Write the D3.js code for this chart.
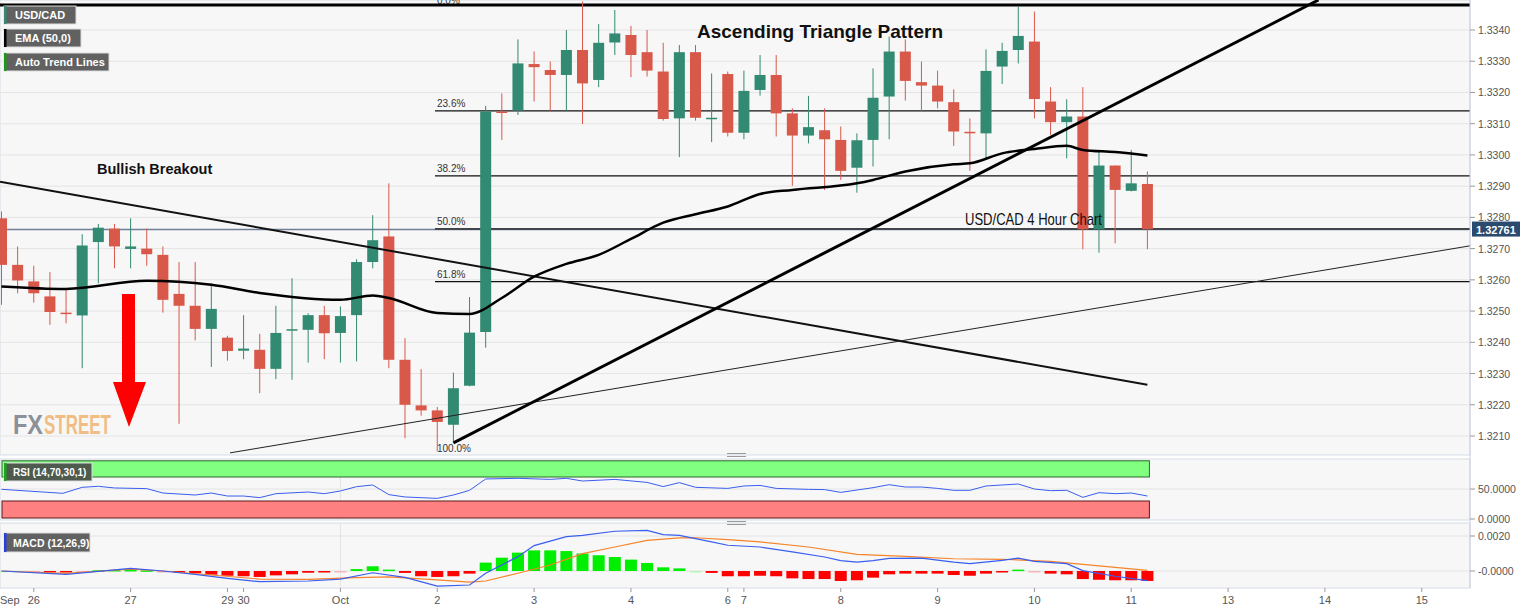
<!DOCTYPE html>
<html><head><meta charset="utf-8">
<script src="https://cdn.jsdelivr.net/npm/d3@7/dist/d3.min.js"></script>
<style>body{margin:0;background:#fff;font-family:"Liberation Sans",Arial,sans-serif}</style>
</head><body><svg id="c" width="1536" height="611"></svg>
<script>
// OHLC per 4-hour candle (index 0..71)
const opens  = [1.32797,1.32648,1.32595,1.32547,1.32495,1.32486,1.32721,1.32764,1.32699,1.32700,1.32680,1.32555,1.32517,1.32443,1.32415,1.32373,1.32376,1.32315,1.32438,1.32440,1.32487,1.32430,1.32487,1.32657,1.32739,1.32344,1.32198,1.32182,1.32136,1.32261,1.32433,1.33139,1.33142,1.33291,1.33272,1.33256,1.33336,1.33240,1.33360,1.33384,1.33329,1.33267,1.33117,1.33329,1.33116,1.33259,1.33071,1.33208,1.33256,1.33133,1.33062,1.33079,1.33048,1.32959,1.33048,1.33187,1.33331,1.33233,1.33222,1.33169,1.33074,1.33069,1.33283,1.33336,1.33363,1.33171,1.33105,1.33123,1.32762,1.32966,1.32885,1.32907];
const highs  = [1.32819,1.32707,1.32645,1.32625,1.32571,1.32746,1.32779,1.32779,1.32797,1.32764,1.32707,1.32657,1.32657,1.32589,1.32421,1.32487,1.32427,1.32517,1.32605,1.32493,1.32517,1.32515,1.32666,1.32807,1.32909,1.32413,1.32314,1.32193,1.32303,1.32545,1.33157,1.33197,1.33370,1.33331,1.33299,1.33400,1.33491,1.33419,1.33464,1.33413,1.33400,1.33359,1.33352,1.33352,1.33261,1.33267,1.33270,1.33320,1.33320,1.33149,1.33189,1.33149,1.33091,1.33069,1.33277,1.33379,1.33370,1.33299,1.33270,1.33210,1.33117,1.33338,1.33359,1.33475,1.33459,1.33217,1.33178,1.33217,1.33011,1.32966,1.33016,1.32947];
const lows   = [1.32520,1.32557,1.32527,1.32456,1.32461,1.32317,1.32589,1.32637,1.32637,1.32645,1.32495,1.32139,1.32406,1.32321,1.32341,1.32346,1.32237,1.32282,1.32280,1.32335,1.32346,1.32335,1.32339,1.32637,1.32317,1.32093,1.32165,1.32051,1.32083,1.32259,1.32383,1.33048,1.33128,1.33171,1.33142,1.33142,1.33099,1.33217,1.33320,1.33249,1.33251,1.33110,1.32993,1.33110,1.33041,1.33059,1.33050,1.33190,1.33059,1.32901,1.33037,1.32888,1.32920,1.32879,1.32963,1.33050,1.33174,1.33141,1.33149,1.33029,1.32949,1.32989,1.33227,1.33293,1.33117,1.33064,1.32989,1.32698,1.32687,1.32717,1.32883,1.32698];
const closes = [1.32648,1.32598,1.32557,1.32497,1.32491,1.32710,1.32767,1.32707,1.32707,1.32682,1.32536,1.32517,1.32443,1.32507,1.32372,1.32380,1.32315,1.32430,1.32442,1.32487,1.32429,1.32484,1.32657,1.32727,1.32344,1.32200,1.32182,1.32145,1.32253,1.32431,1.33139,1.33137,1.33293,1.33281,1.33256,1.33336,1.33229,1.33359,1.33389,1.33320,1.33270,1.33115,1.33329,1.33119,1.33119,1.33071,1.33205,1.33256,1.33133,1.33062,1.33089,1.33050,1.32949,1.33047,1.33183,1.33331,1.33237,1.33222,1.33171,1.33075,1.33070,1.33269,1.33333,1.33381,1.33179,1.33105,1.33123,1.32762,1.32966,1.32888,1.32909,1.32762];
// EMA(50) read at selected candles [index, price]
const emaPts = [[0,1.32579],[4,1.32571],[9,1.32597],[13,1.32584],[16,1.32558],[21,1.32536],[23,1.32550],[24,1.32542],[27,1.32494],[29,1.32491],[31,1.32542],[33,1.32610],[35,1.32651],[37,1.32680],[39,1.32731],[41,1.32783],[43,1.32810],[45,1.32835],[47,1.32875],[49,1.32888],[53,1.32909],[54,1.32920],[56,1.32947],[59,1.32970],[60,1.32973],[62,1.33005],[64,1.33019],[66,1.33029],[67,1.33016],[69,1.33009],[71,1.32998]];
// trend lines [index, price]
const descLine = [[-0.09,1.32914],[71,1.32264]];
const thinLine = [[14.16,1.32046],[91,1.32709]];
const ascLine  = [[28,1.32078],[81.6,1.33496]];
const topLevel = 1.3348;
const fibLevels = [["0.0%",1.3348],["23.6%",1.33141],["38.2%",1.32933],["50.0%",1.32763],["61.8%",1.32594],["100.0%",1.32066]];
const lastPrice = 1.32761;
const priceTicks = [1.3340,1.3330,1.3320,1.3310,1.3300,1.3290,1.3280,1.3270,1.3260,1.3250,1.3240,1.3230,1.3220,1.3210];
// RSI [index, value]
const rsiPts = [[0,49.5],[3.8,42.8],[5,52.8],[6,54.5],[7,51.7],[9,50.6],[10,43.3],[12,40],[13,43.3],[14,38.3],[15,38.3],[16,35.6],[17,42.2],[19,45],[20,42.2],[21,46.7],[22,53.9],[23,56.7],[24,40.6],[25,36.7],[27,34.4],[28,40],[29,47.8],[30,66.7],[32,67.8],[34,66],[35,67.8],[36,63.3],[38,66],[40,61],[41,54],[42,60.6],[43,52.8],[45,51],[46,55],[47,56],[48,51],[50,49.4],[51,49],[52,44.4],[54,52.2],[55,57.2],[56,53.3],[57,53.3],[58,51],[59,47.8],[60,47.8],[61,55],[62,56.7],[63,58.3],[64,50],[65,47.2],[66,47.8],[67,36.1],[68,43.9],[69,42.2],[70,43.3],[71,38.3]];
// MACD histogram (x1e-4) per candle
const hist = [0.1,0,-0.2,-0.6,-0.6,-0.2,0.4,0.6,0.6,0.4,-0.3,-0.8,-1.3,-2.1,-2.7,-3.0,-3.4,-2.5,-1.9,-1.0,-0.6,-0.2,1.1,2.7,0.8,-1.1,-3.0,-3.4,-3.0,-1.5,4.8,7.6,10.5,11.8,11.8,11.4,10.0,9.0,8.0,6.5,4.6,2.1,1.5,0,-1.1,-3.0,-3.0,-2.7,-3.0,-4.2,-4.6,-4.6,-5.7,-5.3,-3.8,-1.9,-1.5,-1.5,-1.5,-2.3,-2.7,-1.5,-0.4,0.8,-0.2,-1.5,-1.9,-4.6,-5.0,-5.3,-5.3,-5.7];
const macdPts = [[0,0],[4,-1.9],[8,1.5],[10,0],[12,-1.9],[14,-4.2],[16,-6.1],[19,-5.7],[21,-4.6],[23,-1],[25,-3.6],[27,-8.6],[29,-8],[30,-1.3],[32,8.2],[33,14.5],[35,19.6],[36,20.4],[38,22.7],[40,23.2],[41,20.8],[42,20.4],[44,16.6],[45,14.7],[47,13.7],[49,10.9],[51,8],[52,5.9],[53,5.1],[54,5.9],[55,7.2],[57,7.4],[59,5.1],[60,4.2],[62,6.1],[63,7.4],[64,5.5],[66,4.2],[67,0.2],[69,-3],[71,-5.5]];
const signalPts = [[0,0],[4,-1.3],[8,1.1],[10,0],[13,-2.3],[16,-4.6],[19,-4.8],[22,-3.8],[24,-3.4],[27,-5.1],[29,-6.3],[30,-5.7],[32,-1.3],[34,3.4],[36,9.9],[38,13.7],[40,17.5],[42,18.9],[43,19],[45,17.9],[47,16.6],[50,13.7],[53,9.5],[56,8.4],[59,7],[62,6.7],[65,5.5],[67,3.8],[71,0.4]];
const dateTicks = [[2,"26"],[8,"27"],[14,"29"],[15,"30"],[21,"Oct"],[27,"2"],[33,"3"],[39,"4"],[45,"6"],[46,"7"],[52,"8"],[58,"9"],[64,"10"],[70,"11"],[76,"13"],[82,"14"],[88,"15"]];

const svg = d3.select("#c");
const W = 1470;
const x = d3.scaleLinear().domain([0,71]).range([1.5,1147.4]);
const y = d3.scaleLinear().domain([1.3210,1.3340]).range([436,30]);
const yr = d3.scaleLinear().domain([0,100]).range([519,459]);
const ym = d3.scaleLinear().domain([0,20]).range([571,536]); // units of 1e-4
const GREEN="#338a72", RED="#d8584a";

// panels
[[0,455],[459,520],[523,588]].forEach(([a,b])=>svg.append("rect").attr("x",0).attr("y",a).attr("width",W).attr("height",b-a).attr("fill","#f7f7f7").attr("stroke","#d5dbe6"));
const defs = svg.append("defs");
defs.append("clipPath").attr("id","mc").append("rect").attr("x",0).attr("y",0).attr("width",W).attr("height",455);
const main = svg.append("g").attr("clip-path","url(#mc)");
main.selectAll(".g").data(priceTicks).join("line").attr("x1",0).attr("x2",W).attr("y1",d=>y(d)).attr("y2",d=>y(d)).attr("stroke","#e4e4e4");
[[459,520],[523,588]].forEach(([a,b])=>svg.append("line").attr("x1",x(21)).attr("x2",x(21)).attr("y1",a).attr("y2",b).attr("stroke","#e4e4e4"));
svg.append("line").attr("x1",0).attr("x2",W).attr("y1",yr(50)).attr("y2",yr(50)).attr("stroke","#e4e4e4");
svg.append("line").attr("x1",0).attr("x2",W).attr("y1",ym(0)).attr("y2",ym(0)).attr("stroke","#e4e4e4");
svg.append("line").attr("x1",0).attr("x2",W).attr("y1",ym(20)).attr("y2",ym(20)).attr("stroke","#e4e4e4");

main.append("line").attr("x1",0).attr("x2",W).attr("y1",y(lastPrice)).attr("y2",y(lastPrice)).attr("stroke","#6f7f96").attr("stroke-width",1.5);
fibLevels.forEach(([t,p],i)=>{
  if(i>0 && i<5) main.append("line").attr("x1",435).attr("x2",W).attr("y1",y(p)).attr("y2",y(p)).attr("stroke","#111").attr("stroke-width",1.2);
  main.append("text").attr("x",437).attr("y",i==0?y(p)-1:(i==5?y(p)+5:y(p)-4)).attr("font-size",10).attr("fill","#333").text(t);
});
main.append("line").attr("x1",0).attr("x2",W).attr("y1",y(topLevel)).attr("y2",y(topLevel)).attr("stroke","#000").attr("stroke-width",3);

const cs = main.selectAll(".c").data(opens.map((o,i)=>({i,o,h:highs[i],l:lows[i],c:closes[i]}))).join("g");
cs.append("line").attr("x1",d=>x(d.i)).attr("x2",d=>x(d.i)).attr("y1",d=>y(d.h)).attr("y2",d=>y(d.l)).attr("stroke",d=>d.c>=d.o?GREEN:RED).attr("stroke-width",1);
cs.append("rect").attr("x",d=>x(d.i)-5.5).attr("width",11).attr("y",d=>y(Math.max(d.o,d.c))).attr("height",d=>Math.max(1.5,Math.abs(y(d.o)-y(d.c)))).attr("fill",d=>d.c>=d.o?GREEN:RED);

const ln = d3.line().x(d=>x(d[0])).y(d=>y(d[1]));
main.append("path").attr("d",ln(descLine)).attr("stroke","#111").attr("stroke-width",2).attr("fill","none");
main.append("path").attr("d",ln(thinLine)).attr("stroke","#222").attr("stroke-width",1).attr("fill","none");
main.append("path").attr("d",ln(ascLine)).attr("stroke","#000").attr("stroke-width",3).attr("fill","none");
main.append("path").attr("d",d3.line().x(d=>x(d[0])).y(d=>y(d[1])).curve(d3.curveMonotoneX)(emaPts)).attr("stroke","#000").attr("stroke-width",2.5).attr("fill","none");

main.append("text").attr("x",697).attr("y",38).attr("font-size",19).attr("font-weight","bold").attr("fill","#111").text("Ascending Triangle Pattern");
main.append("text").attr("x",97).attr("y",174).attr("font-size",14.5).attr("font-weight","bold").attr("fill","#111").text("Bullish Breakout");
main.append("text").attr("x",965).attr("y",225).attr("font-size",17).attr("fill","#111").attr("textLength",137).attr("lengthAdjust","spacingAndGlyphs").text("USD/CAD  4 Hour Chart");
main.append("text").attr("x",13).attr("y",434).attr("font-size",27).attr("font-weight","bold").attr("fill","#8b9099").attr("textLength",30).attr("lengthAdjust","spacingAndGlyphs").text("FX");
main.append("text").attr("x",44).attr("y",434).attr("font-size",27).attr("font-weight","bold").attr("fill","#f1bd84").attr("textLength",67).attr("lengthAdjust","spacingAndGlyphs").text("STREET");
main.append("path").attr("d","M122,294 L135,294 L135,382 L146,382 L129,427 L113,382 L122,382 Z").attr("fill","#ff0000");

function badge(yy,w,txt,col){
  svg.append("rect").attr("x",4).attr("y",yy).attr("width",w).attr("height",18).attr("fill","#616161").attr("stroke","#ddd");
  svg.append("rect").attr("x",4).attr("y",yy).attr("width",2.5).attr("height",18).attr("fill",col);
  svg.append("text").attr("x",15).attr("y",yy+13).attr("font-size",11).attr("font-weight","bold").attr("fill","#fff").text(txt);
}
badge(6,72,"USD/CAD",GREEN); badge(29,77,"EMA (50,0)","#000"); badge(53,105,"Auto Trend Lines","#1a9a1a");

svg.append("line").attr("x1",W).attr("x2",W).attr("y1",0).attr("y2",588).attr("stroke","#c8d0e0");
priceTicks.forEach(p=>{
  svg.append("line").attr("x1",W).attr("x2",W+5).attr("y1",y(p)).attr("y2",y(p)).attr("stroke","#999");
  svg.append("text").attr("x",W+8).attr("y",y(p)+4).attr("font-size",10.5).attr("fill","#555").text(p.toFixed(4));
});
svg.append("rect").attr("x",W+2).attr("y",y(lastPrice)-8).attr("width",48).attr("height",15).attr("fill","#2b4a6f");
svg.append("text").attr("x",W+6).attr("y",y(lastPrice)+4).attr("font-size",11).attr("font-weight","bold").attr("fill","#fff").text(lastPrice.toFixed(5));

// RSI
const xr1 = x(71)+2;
svg.append("rect").attr("x",2).attr("y",yr(97)).attr("width",xr1-2).attr("height",yr(70)-yr(97)).attr("fill","#80ff80").attr("stroke","#2a6a2a");
svg.append("rect").attr("x",2).attr("y",yr(30)).attr("width",xr1-2).attr("height",yr(0)-yr(30)-1).attr("fill","#ff8080").attr("stroke","#5a1a1a");
svg.append("path").attr("d",d3.line().x(d=>x(d[0])).y(d=>yr(d[1]))(rsiPts)).attr("stroke","#3a5ef0").attr("fill","none").attr("stroke-width",1);
svg.append("rect").attr("x",4).attr("y",463).attr("width",88).attr("height",18).attr("fill","#4e5a4e").attr("stroke","#ddd");
svg.append("rect").attr("x",4).attr("y",463).attr("width",2.5).attr("height",18).attr("fill","#1aa81a");
svg.append("text").attr("x",13).attr("y",476).attr("font-size",10).attr("font-weight","bold").attr("fill","#fff").text("RSI (14,70,30,1)");
[[50,"50.0000"],[0,"0.0000"]].forEach(([v,t])=>{
  svg.append("line").attr("x1",W).attr("x2",W+5).attr("y1",yr(v)).attr("y2",yr(v)).attr("stroke","#999");
  svg.append("text").attr("x",W+8).attr("y",yr(v)+4).attr("font-size",10.5).attr("fill","#555").text(t);
});

// MACD
svg.selectAll(".h").data(hist).join("rect").attr("x",(d,i)=>x(i)-6).attr("width",12)
  .attr("y",d=>d>=0?ym(d):ym(0)).attr("height",d=>Math.max(1.5,Math.abs(ym(0)-ym(d))))
  .attr("fill",d=>d>=0?(d<0.3?"#b8f5b8":"#00ee00"):(d>-0.35?"#f5b8b8":"#ff0000"));
svg.append("path").attr("d",d3.line().x(d=>x(d[0])).y(d=>ym(d[1]))(signalPts)).attr("stroke","#f5842a").attr("fill","none").attr("stroke-width",1.2);
svg.append("path").attr("d",d3.line().x(d=>x(d[0])).y(d=>ym(d[1]))(macdPts)).attr("stroke","#3a5ef0").attr("fill","none").attr("stroke-width",1.2);
svg.append("rect").attr("x",4).attr("y",533).attr("width",86).attr("height",19).attr("fill","#616161").attr("stroke","#ddd");
svg.append("rect").attr("x",4).attr("y",533).attr("width",2.5).attr("height",19).attr("fill","#2a3ee0");
svg.append("text").attr("x",13).attr("y",547).attr("font-size",10.5).attr("font-weight","bold").attr("fill","#fff").text("MACD (12,26,9)");
[[20,"0.0020"],[0,"-0.0000"]].forEach(([v,t])=>{
  svg.append("line").attr("x1",W).attr("x2",W+5).attr("y1",ym(v)).attr("y2",ym(v)).attr("stroke","#999");
  svg.append("text").attr("x",W+8).attr("y",ym(v)+4).attr("font-size",10.5).attr("fill","#555").text(t);
});

[455,523].forEach(h=>{[-1.5,1.5].forEach(o=>svg.append("line").attr("x1",727).attr("x2",746).attr("y1",h+o).attr("y2",h+o).attr("stroke","#999"));});

dateTicks.forEach(([i,t])=>{
  svg.append("line").attr("x1",x(i)).attr("x2",x(i)).attr("y1",588).attr("y2",592).attr("stroke","#999");
  svg.append("text").attr("x",x(i)).attr("y",604).attr("text-anchor","middle").attr("font-size",11).attr("fill","#555").text(t);
});
svg.append("text").attr("x",0).attr("y",604).attr("font-size",11).attr("fill","#555").text("Sep");
</script></body></html>
